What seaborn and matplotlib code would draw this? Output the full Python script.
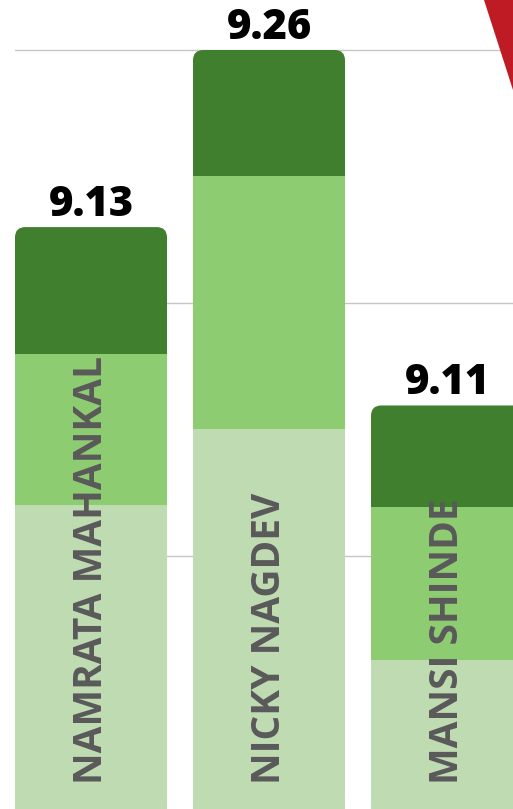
import pandas as pd
import matplotlib.pyplot as plt
import seaborn as sns
from matplotlib.patches import FancyBboxPatch, Polygon

# data (stacked segments, bottom -> top)
names = ["NAMRATA MAHANKAL", "NICKY NAGDEV", "MANSI SHINDE"]
scores = [9.13, 9.26, 9.11]
light_seg = [12.0, 15.0, 5.9]
mid_seg = [6.0, 10.0, 6.05]
dark_seg = [5.0, 5.0, 4.0]

c_dark = "#407f2d"
c_mid = "#8dcc70"
c_light = "#bfdbb1"

sns.set_theme(style="white")
plt.rcParams['font.family'] = ['Open Sans', 'DejaVu Sans']

df = pd.DataFrame({"name": names, "light": light_seg, "mid": mid_seg, "dark": dark_seg})
df["top_mid"] = df["light"] + df["mid"]
df["total"] = df["top_mid"] + df["dark"]

W, H = 513, 809
fig = plt.figure(figsize=(W / 100, H / 100), dpi=100)
ax = fig.add_axes([15 / W, 0, 1 - 15 / W, 1])

bw = 0.854
kw = dict(x="name", width=bw, saturation=1, linewidth=0, edgecolor="none", ax=ax)
sns.barplot(data=df, y="total", color=c_dark, **kw)
tot_bars = list(ax.patches)
sns.barplot(data=df, y="top_mid", color=c_mid, **kw)
sns.barplot(data=df, y="light", color=c_light, **kw)

# axis range: one slot = 178 px, 10 units = 253 px
ax.set_xlim(-bw / 2, (W - 91) / 178)
ax.set_ylim(0, H / 25.3)
ax.set_yticks([10, 20, 30])
ax.yaxis.grid(True, color="#c6c6c6", linewidth=1)
ax.set_axisbelow(True)
ax.set_xticks([])
ax.set_yticklabels([])
ax.set_xlabel("")
ax.set_ylabel("")
ax.tick_params(left=False, bottom=False)
sns.despine(ax=ax, left=True, bottom=True)

# value labels on top
ax.bar_label(ax.containers[0], labels=[f"{s:.2f}" for s in scores],
             padding=1, fontsize=30, fontweight="heavy", color="black")

# round the top corners
asp = (1 / 25.3) / (1 / 178)
for p in tot_bars:
    x, y = p.get_x(), p.get_y()
    w, h = p.get_width(), p.get_height()
    p.set_visible(False)
    rb = FancyBboxPatch((x, y), w, h, boxstyle="round,pad=0,rounding_size=0.058",
                        mutation_aspect=asp, facecolor=c_dark, edgecolor="none", zorder=p.get_zorder())
    ax.add_patch(rb)
for p in ax.patches:
    if p not in tot_bars and not isinstance(p, FancyBboxPatch):
        p.set_zorder(3)

# names inside the bars
for i, n in enumerate(names):
    ax.annotate(n, xy=(i, 0), xytext=(0, 18), textcoords="offset points",
                rotation=90, ha="center", va="bottom", fontsize=28,
                fontweight="bold", color="#595959", zorder=5)

# red corner decoration
fig.add_artist(Polygon([(484 / W, 1), (1, 1), (1, 1 - 90 / H)], closed=True,
                       facecolor="#be1b24", edgecolor="none", transform=fig.transFigure))

fig.savefig("out.png", dpi=100)
